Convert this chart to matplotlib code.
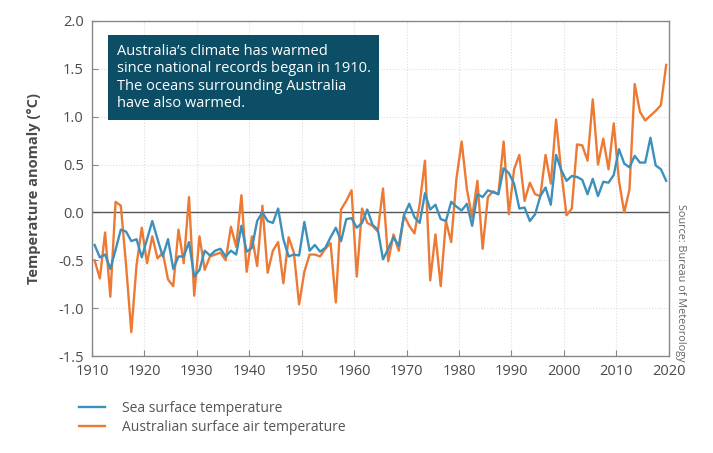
import numpy as np
import matplotlib
matplotlib.use("Agg")
import matplotlib.pyplot as plt

plt.rcParams['font.family'] = ['Open Sans', 'DejaVu Sans']

# Years 1910-2019, annual anomalies (°C)
years = np.arange(1910, 2020)

sea_surface = [
    -0.34, -0.47, -0.44, -0.59, -0.39, -0.18, -0.20, -0.30, -0.28, -0.47,
    -0.28, -0.09, -0.28, -0.46, -0.28, -0.59, -0.46, -0.46, -0.31, -0.67,
    -0.60, -0.40, -0.45, -0.40, -0.38, -0.46, -0.40, -0.44, -0.14, -0.41,
    -0.37, -0.09, 0.00, -0.09, -0.11, 0.04, -0.28, -0.46, -0.44, -0.45,
    -0.10, -0.40, -0.34, -0.41, -0.37, -0.26, -0.16, -0.30, -0.07, -0.06,
    -0.16, -0.11, 0.03, -0.13, -0.18, -0.49, -0.38, -0.26, -0.35, -0.03,
    0.09, -0.05, -0.11, 0.20, 0.03, 0.08, -0.07, -0.09, 0.11, 0.06,
    0.02, 0.09, -0.14, 0.19, 0.16, 0.23, 0.21, 0.19, 0.46, 0.41,
    0.30, 0.04, 0.05, -0.09, -0.02, 0.17, 0.26, 0.08, 0.60, 0.44,
    0.33, 0.38, 0.37, 0.34, 0.19, 0.35, 0.17, 0.32, 0.31, 0.39,
    0.66, 0.51, 0.47, 0.59, 0.52, 0.52, 0.78, 0.49, 0.45, 0.33,
]

air_temp = [
    -0.50, -0.69, -0.21, -0.88, 0.11, 0.07, -0.55, -1.25, -0.55, -0.16,
    -0.53, -0.25, -0.48, -0.42, -0.70, -0.77, -0.18, -0.53, 0.16, -0.87,
    -0.25, -0.60, -0.46, -0.44, -0.42, -0.50, -0.15, -0.36, 0.18, -0.62,
    -0.25, -0.56, 0.07, -0.63, -0.40, -0.31, -0.74, -0.26, -0.42, -0.96,
    -0.62, -0.44, -0.44, -0.46, -0.38, -0.32, -0.94, 0.03, 0.12, 0.23,
    -0.67, 0.04, -0.11, -0.14, -0.20, 0.25, -0.51, -0.23, -0.40, -0.03,
    -0.14, -0.22, 0.09, 0.54, -0.71, -0.23, -0.77, -0.09, -0.31, 0.35,
    0.74, 0.24, -0.05, 0.33, -0.38, 0.16, 0.22, 0.19, 0.74, -0.02,
    0.45, 0.60, 0.12, 0.31, 0.19, 0.17, 0.60, 0.30, 0.97, 0.42,
    -0.03, 0.04, 0.71, 0.70, 0.54, 1.18, 0.50, 0.77, 0.45, 0.93,
    0.33, 0.00, 0.24, 1.34, 1.05, 0.96, 1.01, 1.06, 1.12, 1.54,
]

x_ticks = np.arange(1910, 2021, 10)
y_ticks = np.arange(-1.5, 2.01, 0.5)

blue = '#3d90bc'
orange = '#ec7a35'
grey_text = '#4a4a4a'

fig = plt.figure(figsize=(7.13, 4.53), dpi=100)
ax = fig.add_axes([0.129, 0.214, 0.809, 0.740])

# points sit in the middle of each year
ax.plot(years + 0.5, sea_surface, color=blue, lw=1.7, zorder=3,
        label='Sea surface temperature')
ax.plot(years + 0.5, air_temp, color=orange, lw=1.7, zorder=2,
        label='Australian surface air temperature')

ax.axhline(0, color='#555555', lw=1.0, zorder=1)

ax.set_xlim(1910, 2020)
ax.set_ylim(-1.5, 2.0)
ax.set_xticks(x_ticks)
ax.set_yticks(y_ticks)
ax.set_yticklabels([f'{v:.1f}' for v in y_ticks])
ax.grid(True, color='#dddddd', ls=':', lw=0.8)
ax.set_axisbelow(True)
ax.tick_params(direction='in', length=4, color='#888888', labelcolor=grey_text,
               labelsize=10.5, pad=6)

for s in ax.spines.values():
    s.set_color('#888888')
    s.set_linewidth(1.0)

ax.set_ylabel('Temperature anomaly (°C)', fontsize=10.5, fontweight='bold',
              color=grey_text, labelpad=12)

# message box
ax.text(1914.7, 1.76,
        'Australia\u2019s climate has warmed\n'
        'since national records began in 1910.\n'
        'The oceans surrounding Australia\n'
        'have also warmed.',
        color='white', fontsize=10.5, va='top', ha='left', linespacing=1.22,
        zorder=5,
        bbox=dict(boxstyle='square,pad=0.6', fc='#0b4e66', ec='none'))

fig.text(0.947, 0.375, 'Source: Bureau of Meteorology', rotation=-90,
         fontsize=7.8, color='#666666', ha='left', va='center')

fig.legend(loc='upper left', bbox_to_anchor=(0.093, 0.143), frameon=False,
           fontsize=10, labelcolor='#555555', handlelength=1.9,
           handletextpad=1.2, labelspacing=0.3)

fig.savefig('out.png', dpi=100)
